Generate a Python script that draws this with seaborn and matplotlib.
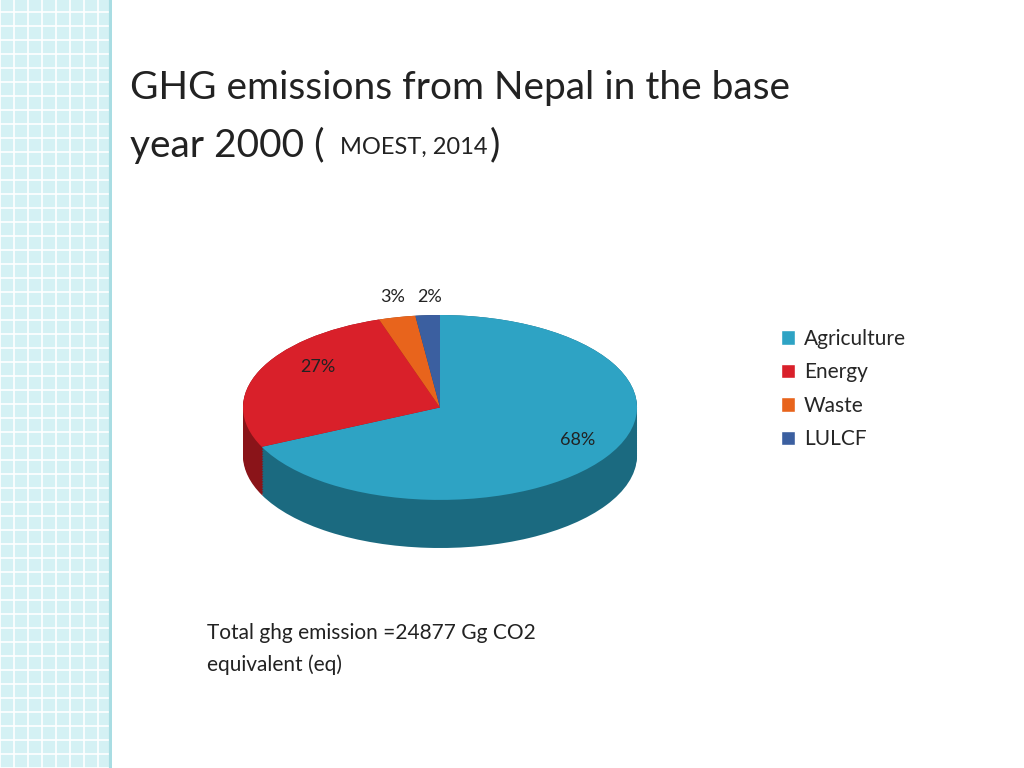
import matplotlib
matplotlib.use("Agg")
import matplotlib.pyplot as plt
import seaborn as sns
import numpy as np
from matplotlib.patches import Patch, Rectangle

sns.set_theme(style="white")

categories = ["Agriculture", "Energy", "Waste", "LULCF"]
values = [68, 27, 3, 2]
colors = ["#2ea3c4", "#d9202a", "#e8641c", "#3b5fa0"]
side_colors = ["#1b6a80", "#8a1419", "#9a4010", "#263f6a"]

fig = plt.figure(figsize=(10.24, 7.68), dpi=100)
fig.patch.set_facecolor("white")

# left decorative strip
strip = fig.add_axes([0, 0, 112/1024, 1])
strip.set_xlim(0, 112); strip.set_ylim(0, 768)
strip.add_patch(Rectangle((0, 0), 112, 768, color="#d4f1f4"))
for x in np.arange(0, 112, 14):
    strip.axvline(x, color="white", lw=1.2)
for y in np.arange(0, 768, 14):
    strip.axhline(y, color="white", lw=1.2)
strip.axvline(111, color="#a9dde3", lw=3)
strip.axis("off")

# pie axes
ax = fig.add_axes([243/1024, 1-548/768, 394/1024, 233/768])
depth = 0.52
for d in np.linspace(depth, 0.0, 30):
    ax.pie(values, colors=side_colors, startangle=90, counterclock=False,
           center=(0, -d), radius=1, wedgeprops=dict(linewidth=0))
ax.pie(values, colors=colors, startangle=90, counterclock=False,
       center=(0, 0), radius=1, wedgeprops=dict(linewidth=0))
ax.set_aspect("auto")
ax.set_xlim(-1, 1)
ax.set_ylim(-1 - depth, 1)
ax.axis("off")

label_pos = [(578, 440), (318, 367), (393, 297), (430, 297)]
for v, (px, py) in zip(values, label_pos):
    fig.text(px/1024, 1-py/768, f"{v}%", ha="center", va="center",
             fontsize=13, family="Lato", color="#222222")

handles = [Patch(facecolor=c, label=l) for c, l in zip(colors, categories)]
fig.legend(handles=handles, loc="upper left", bbox_to_anchor=(762/1024, 1-310/768),
           frameon=False, prop=dict(family="Lato", size=15), handlelength=0.7,
           handleheight=0.7, labelspacing=0.65, handletextpad=0.4)

# title
fig.text(130/1024, 1-88/768, "GHG emissions from Nepal in the base", fontsize=28,
         family="Lato", color="#222222", va="center")
t = fig.text(130/1024, 1-145/768, "year 2000 (", fontsize=28, family="Lato",
             color="#222222", va="center")
fig.text(340/1024, 1-147/768, "MOEST, 2014", fontsize=17, family="Lato",
         color="#222222", va="center")
fig.text(490/1024, 1-145/768, ")", fontsize=28, family="Lato",
         color="#222222", va="center")

fig.text(207/1024, 1-633/768, "Total ghg emission =24877 Gg CO2", fontsize=15,
         family="Lato", color="#222222", va="center")
fig.text(207/1024, 1-665/768, "equivalent (eq)", fontsize=15,
         family="Lato", color="#222222", va="center")

fig.savefig("out.png", dpi=100)
